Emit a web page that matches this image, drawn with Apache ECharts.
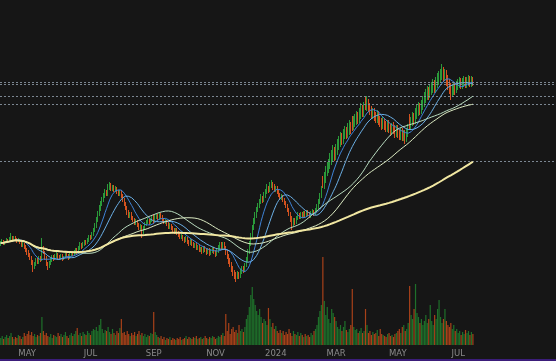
<!DOCTYPE html>
<html><head><meta charset="utf-8">
<script src="https://cdn.jsdelivr.net/npm/echarts/dist/echarts.min.js"></script>
<style>html,body{margin:0;padding:0;background:#161616;}#c{width:556px;height:361px;}</style>
</head><body><div id="c"></div>
<script>
// ---- categories (trading days) ----
const startDate = '2023-04-04';
const holidays = ['2023-04-07','2023-05-29','2023-06-19','2023-07-04','2023-09-04','2023-11-23','2023-12-25',
  '2024-01-01','2024-01-15','2024-02-19','2024-03-29','2024-05-27','2024-06-19','2024-07-04','2024-09-02'];
const totalSlots = 378;
const monthNames = ['JAN','FEB','MAR','APR','MAY','JUN','JUL','AUG','SEP','OCT','NOV','DEC'];
const labelMonths = [0,2,4,6,8,10];

// ---- price data (open / close / high / low) ----
const opens = [
56,57,59,56,58,60,59,61,63,60, 62,61,59,60,58,55,56,53,50,48, 45,42,38,33,36,40,38,42,41,52,
48,42,36,33,37,40,43,41,44,46, 43,42,44,41,43,45,44,42,45,47, 46,48,50,47,52,55,53,56,58,57,
60,63,62,66,70,74,80,86,92,96, 100,104,108,106,112,115,111,113,110,112, 108,106,108,104,100,96,92,88,84,86,
82,80,77,79,75,72,74,68,72,76, 78,80,77,79,82,80,83,84,82,85, 83,80,78,79,76,73,75,72,70,68,
70,67,65,63,64,61,60,62,58,57, 59,56,54,55,52,53,50,51,49,52, 50,48,50,47,49,51,48,46,49,52,
55,53,56,52,48,44,40,36,32,28, 25,23,26,24,28,32,30,35,40,48, 56,64,72,78,84,90,94,98,102,100,
105,108,112,110,114,116,113,110,112,108, 105,102,104,100,97,94,90,86,82,76, 80,78,82,85,83,86,84,87,85,88,
86,84,87,89,86,90,93,98,104,120, 116,122,128,132,136,140,143,148,145,150, 155,158,162,160,165,168,166,170,173,178,
175,178,180,183,181,186,190,188,199,195, 197,193,190,186,188,184,182,185,180,178, 176,178,175,173,176,172,170,173,171,168,
170,167,165,168,164,166,162,167,181,175, 178,182,180,185,189,192,190,195,198,202, 205,208,206,210,212,215,213,217,220,222,
225,228,224,226,220,216,212,208,210,213, 211,214,216,218,215,217,219,216,218,220,217,219];
const closes = [
57,59,56,58,60,59,61,63,60,62, 61,59,60,58,55,56,53,50,48,45, 42,38,33,36,40,38,42,40,52,48,
42,36,33,37,40,43,41,44,46,43, 42,44,41,43,45,44,42,45,47,46, 48,50,47,52,55,53,56,58,57,60,
63,62,66,70,74,80,86,92,96,100, 104,108,106,112,115,111,113,110,112,108, 106,108,104,100,96,92,88,84,86,82,
80,77,79,75,72,74,68,72,76,78, 80,77,79,82,80,83,84,82,85,83, 80,78,79,76,73,75,72,70,68,70,
67,65,63,64,61,60,62,58,57,59, 56,54,55,52,53,50,51,49,52,50, 48,50,47,49,51,48,46,49,52,55,
53,56,52,48,44,40,36,32,28,25, 23,26,24,28,32,30,35,40,48,56, 64,72,78,84,90,94,98,102,100,105,
108,112,110,114,116,113,110,112,108,105, 102,104,100,97,94,90,86,82,76,80, 78,82,85,83,86,84,87,85,88,86,
84,87,89,86,90,93,98,104,110,116, 122,128,132,136,140,143,148,145,150,155, 158,162,160,165,168,166,170,173,171,175,
178,180,183,181,186,190,188,192,195,197, 193,190,186,188,184,182,185,180,178,176, 178,175,173,176,172,170,173,171,168,170,
167,165,168,164,166,162,167,171,175,178, 182,180,185,189,192,190,195,198,202,205, 208,206,210,212,215,213,217,220,222,225,
228,224,226,220,216,212,208,210,213,211, 214,216,218,215,217,219,216,218,220,217,219,218];
const highs = [
59,61,60,59,62,61,63,67,64,64, 64,62,62,61,59,58,57,55,52,50, 47,44,40,38,42,42,44,44,62,54,
49,44,38,39,42,45,45,46,48,47, 45,46,46,44,47,47,46,47,49,49, 50,52,52,54,58,57,58,60,60,62,
65,65,68,72,77,83,89,95,99,103, 107,111,110,116,118,117,115,115,114,113, 110,110,110,106,102,98,94,90,88,88,
84,82,81,80,77,76,75,74,78,80, 82,81,81,84,86,85,87,86,88,87, 85,82,81,80,78,77,76,74,72,72,
72,69,67,66,65,63,64,63,60,61, 61,58,57,57,55,55,53,53,54,54, 52,52,52,51,53,53,50,51,55,58,
58,58,58,54,50,46,42,38,34,30, 28,29,28,31,34,34,37,43,51,59, 67,75,82,88,93,97,101,106,104,108,
111,116,114,118,120,118,116,114,114,110, 107,106,105,102,99,96,92,88,84,82, 82,84,88,87,88,88,89,89,90,90,
88,89,91,90,92,96,101,107,114,124, 128,134,138,141,147,150,155,153,156,161, 164,168,167,171,174,173,177,180,178,184,
184,186,189,188,192,197,195,198,203,204, 201,197,194,192,192,188,190,189,184,182, 183,182,179,180,180,176,177,178,175,175,
175,171,172,172,170,170,171,176,186,183, 188,187,192,195,198,197,200,204,208,211, 214,213,216,218,221,220,223,227,229,231,
236,233,231,230,225,221,217,215,218,218, 219,221,223,222,222,224,223,223,225,224,224,223];
const lows = [
54,56,55,55,57,58,58,60,58,59, 59,57,58,56,53,53,51,48,45,43, 40,35,28,31,34,36,36,38,39,46,
40,34,30,32,35,38,39,40,42,41, 40,41,39,40,42,43,40,41,44,44, 44,46,45,46,50,51,52,54,55,56,
58,60,61,64,68,72,78,84,89,94, 98,102,104,104,110,109,109,108,108,106, 104,104,102,98,94,90,85,82,82,80,
78,75,75,73,70,70,62,66,70,74, 76,75,76,78,76,78,81,80,80,81, 78,76,76,74,71,71,70,67,66,66,
65,63,61,61,59,57,58,56,54,55, 54,52,52,50,50,48,48,46,47,48, 45,46,44,45,47,46,43,44,47,50,
50,51,50,45,41,36,33,28,24,21, 18,21,21,22,26,27,28,33,38,46, 54,62,70,76,82,88,92,96,97,98,
102,106,107,108,112,110,108,108,106,103, 100,100,98,95,92,88,84,78,70,74, 75,76,80,81,81,82,82,83,83,84,
82,82,85,84,85,88,91,96,102,112, 111,117,124,127,131,135,138,139,140,145, 150,153,155,156,161,161,162,165,166,169,
170,173,175,176,177,181,183,183,190,189, 188,185,181,181,179,177,177,175,173,170, 171,170,168,168,167,164,165,166,162,163,
162,160,160,159,159,156,158,163,171,170, 174,175,176,181,184,185,186,190,193,197, 200,200,202,205,207,207,208,212,215,217,
220,218,219,214,210,206,200,203,205,205, 207,210,212,211,211,213,212,212,214,213,213,214];
const volumes = [
7,9,6,8,10,7,9,12,8,6, 8,7,10,9,6,8,12,9,11,14, 10,13,9,11,8,10,9,12,28,14,
10,12,9,8,11,7,10,9,8,12, 9,11,8,10,13,9,7,10,12,9, 11,14,17,10,12,9,13,11,10,14,
12,10,14,16,15,18,14,20,26,16, 12,15,14,18,13,11,16,12,10,14, 12,17,26,12,13,10,14,11,9,12,
10,13,9,11,14,10,12,9,11,8, 10,9,12,11,33,13,10,8,7,9, 6,8,5,7,6,8,5,7,6,5,
7,6,8,5,6,7,9,6,8,7, 6,8,7,9,6,7,8,6,7,9, 7,6,8,7,9,8,6,7,9,8,
10,12,9,31,14,22,11,16,18,13, 15,12,20,14,16,13,18,26,30,38, 50,58,46,40,34,30,36,28,22,26,
24,20,37,26,18,22,16,19,14,12, 15,12,14,10,13,11,16,12,9,14, 11,10,13,9,12,10,8,11,9,10,
8,12,10,14,16,20,28,34,40,88, 44,30,38,26,22,36,32,28,24,18, 16,20,14,18,24,15,13,16,20,56,
18,15,16,12,14,17,12,14,36,20, 12,14,10,13,11,12,15,9,16,11, 10,9,8,11,12,9,10,8,11,12,
14,16,12,18,20,14,16,22,59,30, 26,36,61,32,28,22,26,20,24,30, 22,26,40,24,20,30,26,36,45,28,
22,26,36,24,20,18,22,16,20,14, 16,12,14,10,13,11,15,12,14,10,13,11];

// ---- moving averages (simple) ----
const maPeriods = [10, 20, 50, 70, 180];
const maColors = ['#3f84d8', '#6cb0e6', '#b9dcc0', '#dcebc3', '#f1e7a2'];
const maWidths = [1, 1, 1, 1, 2];

// ---- build ----
const dates = [];
{
  const d = new Date(startDate + 'T00:00:00Z');
  while (dates.length < totalSlots) {
    const wd = d.getUTCDay();
    const s = d.toISOString().slice(0, 10);
    if (wd !== 0 && wd !== 6 && !holidays.includes(s)) dates.push(s);
    d.setUTCDate(d.getUTCDate() + 1);
  }
}
const N = closes.length;
const candleData = closes.map((c, i) => [opens[i], c, lows[i], highs[i]]);
function sma(n) {
  const out = [];
  let sum = 0;
  for (let i = 0; i < N; i++) {
    sum += closes[i];
    if (i >= n) sum -= closes[i - n];
    const cnt = Math.min(i + 1, n);
    out.push(+(sum / cnt).toFixed(3));
  }
  return out;
}
function isLabel(idx) {
  if (idx <= 0 || idx >= N) return false;
  const s = dates[idx];
  const m = +s.slice(5, 7) - 1;
  if (!labelMonths.includes(m)) return false;
  return dates[idx - 1].slice(5, 7) !== s.slice(5, 7);
}
const upColor = '#2a9a3a', downColor = '#d4521f';
const volUp = '#1f7a2c', volDown = '#b8461a';

const maSeries = maPeriods.map((p, k) => {
  const vals = sma(p);
  return {
    type: 'line', name: 'MA' + p, data: vals, xAxisIndex: 0, yAxisIndex: 0,
    symbol: 'none', smooth: false, z: 3 + k,
    lineStyle: { color: maColors[k], width: maWidths[k] },
    markLine: {
      silent: true, symbol: 'none', label: { show: false },
      lineStyle: { color: '#8793a0', type: [2, 2], width: 1, opacity: 0.9 },
      data: [{ yAxis: vals[N - 1] }]
    }
  };
});

const chart = echarts.init(document.getElementById('c'), null, { renderer: 'canvas' });
chart.setOption({
  backgroundColor: '#161616',
  animation: false,
  grid: [
    { left: 0, right: 0, top: 0, height: 300 },
    { left: 0, right: 0, top: 245, height: 100 }
  ],
  xAxis: [
    { type: 'category', gridIndex: 0, data: dates, boundaryGap: true, show: false },
    { type: 'category', gridIndex: 1, data: dates, boundaryGap: true,
      axisLine: { show: false }, axisTick: { show: false }, splitLine: { show: false },
      axisLabel: { interval: (i) => isLabel(i), margin: 4, color: '#8a8a8a', fontSize: 8.5,
        fontFamily: 'DejaVu Sans',
        formatter: (v) => { const m = +v.slice(5, 7) - 1; return m === 0 ? v.slice(0, 4) : monthNames[m]; } } }
  ],
  yAxis: [
    { type: 'value', gridIndex: 0, min: 0, max: 300, show: false, splitLine: { show: false } },
    { type: 'value', gridIndex: 1, min: 0, max: 100, show: false, splitLine: { show: false } }
  ],
  series: [
    { type: 'bar', name: 'Volume', xAxisIndex: 1, yAxisIndex: 1, barCategoryGap: '18%', z: 1,
      data: volumes.map((v, i) => ({ value: v, itemStyle: { color: closes[i] >= opens[i] ? volUp : volDown, opacity: 0.9 } })) },
    { type: 'candlestick', name: 'Price', xAxisIndex: 0, yAxisIndex: 0, z: 2, barMaxWidth: 1.4,
      data: candleData,
      itemStyle: { color: upColor, color0: downColor, borderColor: upColor, borderColor0: downColor, borderWidth: 1 } },
    ...maSeries
  ],
  graphic: [
    { type: 'rect', left: 0, top: 359, shape: { width: 556, height: 2 }, style: { fill: '#3b1d7a' }, silent: true }
  ]
});
</script>
</body></html>
